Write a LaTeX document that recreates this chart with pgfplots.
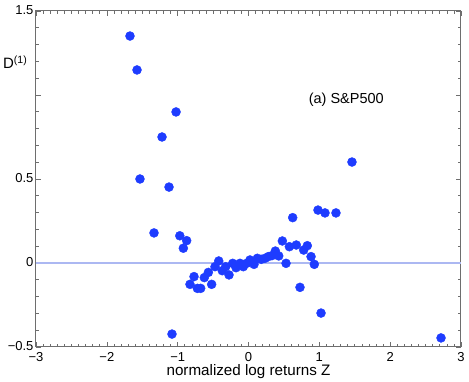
\documentclass[border=0pt]{standalone}
\usepackage{fontspec}
\setmainfont{Liberation Sans}
\usepackage{pgfplots}
\pgfplotsset{compat=1.18}
\definecolor{dotblue}{RGB}{30,60,255}
\definecolor{zeroline}{RGB}{172,184,242}
\definecolor{framegray}{RGB}{110,110,110}
\begin{document}
\begin{tikzpicture}
\begin{axis}[
	scale only axis,
	width=425pt, height=336pt,
	at={(0,0)}, anchor=south west,
	xmin=-3, xmax=3, ymin=-0.5, ymax=1.5,
	axis line style={framegray, line width=1pt},
	tick style={framegray, line width=0.6pt},
	tick align=inside,
	major tick length=5pt, minor tick length=3pt,
	xtick={-3,-2,-1,0,1,2,3},
	xticklabels={−3,−2,−1,0,1,2,3},
	minor x tick num=9,
	ytick={-0.5,0,0.5,1,1.5},
	yticklabels={−0.5,0,0.5,,1.5},
	minor y tick num=4,
	ticklabel style={font=\fontsize{13}{15}\selectfont},
	xticklabel style={yshift=-2pt},
	yticklabel style={xshift=1pt, yshift=1pt},
	xlabel={normalized log returns Z},
	xlabel style={font=\fontsize{15.2}{18}\selectfont, at={(axis description cs:0.5,-0.074)}, anchor=center},
	ylabel={D\textsuperscript{(1)}},
	ylabel style={font=\fontsize{15}{18}\selectfont, rotate=-90, at={(axis description cs:-0.049,0.848)}, anchor=center},
	clip=false,
]
\addplot[zeroline, line width=1.6pt, forget plot] coordinates {(-3,0) (3,0)};
\addplot[only marks, mark=*, mark size=4.5pt, color=dotblue, mark options={draw=dotblue, fill=dotblue}] table {
x y
-1.673 1.351
-1.574 1.149
-1.023 0.899
-1.221 0.750
-1.532 0.500
-1.122 0.452
1.461 0.601
-1.334 0.179
0.981 0.315
1.080 0.298
1.235 0.298
0.624 0.270
-1.080 -0.423
1.024 -0.298
2.718 -0.446
-0.970 0.162
-0.873 0.133
-0.920 0.088
-0.826 -0.127
-0.769 -0.081
-0.722 -0.151
-0.675 -0.151
-0.624 -0.087
-0.567 -0.056
-0.520 -0.127
-0.473 -0.022
-0.420 0.012
-0.370 -0.046
-0.322 -0.022
-0.275 -0.071
-0.223 -0.002
-0.176 -0.028
-0.120 -0.002
-0.073 -0.022
-0.026 -0.002
0.021 0.018
0.078 -0.008
0.125 0.028
0.180 0.022
0.233 0.028
0.280 0.038
0.332 0.044
0.379 0.071
0.427 0.042
0.478 0.131
0.530 -0.002
0.577 0.097
0.675 0.107
0.727 -0.145
0.779 0.077
0.830 0.103
0.883 0.038
0.929 -0.008
};
\node[font=\fontsize{14.5}{17}\selectfont] at (axis cs:1.38,0.97) {(a) S\&P500};
\end{axis}
\pgfresetboundingbox
\useasboundingbox (-36pt,-35pt) rectangle (433pt,347pt);
\end{tikzpicture}
\end{document}
